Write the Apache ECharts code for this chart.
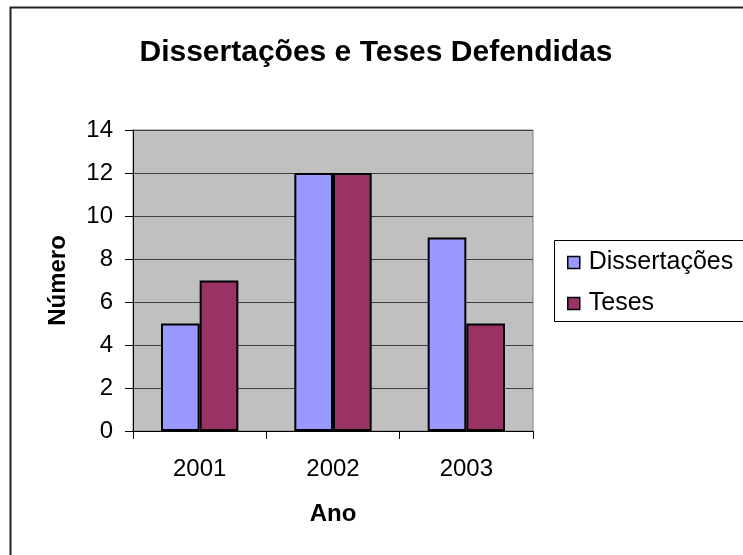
<!DOCTYPE html>
<html><head><meta charset="utf-8">
<script src="https://cdn.jsdelivr.net/npm/echarts@6/dist/echarts.min.js"></script>
<style>html,body{margin:0;padding:0;background:#fff}#c{width:743px;height:555px}</style>
</head><body><div id="c"></div>
<script>
var categories = ['2001', '2002', '2003'];
var dissertacoes = [5, 12, 9];
var teses = [7, 12, 5];
var yTicks = [0, 2, 4, 6, 8, 10, 12, 14];

var chart = echarts.init(document.getElementById('c'));
var F = 'Arial, "Liberation Sans", sans-serif';
chart.setOption({
  animation: false,
  backgroundColor: '#fff',
  title: {
    text: 'Dissertações e Teses Defendidas',
    left: 371, top: 33, textAlign: 'center',
    textStyle: { fontFamily: F, fontSize: 30, fontWeight: 'bold', color: '#000' }
  },
  graphic: [
    { type: 'rect', z: 0, shape: { x: 10.5, y: 7.5, width: 800, height: 700 },
      style: { fill: 'none', stroke: '#222', lineWidth: 2 } },
    { type: 'rect', z: 0, shape: { x: 554.5, y: 240.5, width: 300, height: 81 },
      style: { fill: '#fff', stroke: '#000', lineWidth: 1 } }
  ],
  legend: {
    orient: 'vertical', left: 562, top: 245, itemGap: 16,
    itemWidth: 12, itemHeight: 12, icon: 'rect',
    itemStyle: { borderColor: '#000', borderWidth: 1.5 },
    textStyle: { fontFamily: F, fontSize: 25, color: '#000', padding: [0, 0, 0, 4] },
    data: ['Dissertações', 'Teses']
  },
  grid: { left: 133, right: 210, top: 130, bottom: 124, show: true,
    backgroundColor: '#c0c0c0', borderColor: '#808080', borderWidth: 1 },
  xAxis: {
    type: 'category', data: categories,
    name: 'Ano', nameLocation: 'middle', nameGap: 71,
    nameTextStyle: { fontFamily: F, fontSize: 24, fontWeight: 'bold', color: '#000' },
    axisLine: { lineStyle: { color: '#000', width: 1 } },
    axisTick: { show: true, length: 8, lineStyle: { color: '#000' } },
    axisLabel: { fontFamily: F, fontSize: 24, color: '#000', margin: 26 }
  },
  yAxis: {
    type: 'value', min: 0, max: 14, interval: 2,
    name: 'Número', nameLocation: 'middle', nameGap: 63,
    nameTextStyle: { fontFamily: F, fontSize: 24, fontWeight: 'bold', color: '#000' },
    axisLine: { show: true, lineStyle: { color: '#000', width: 1 } },
    axisTick: { show: true, length: 8, lineStyle: { color: '#000' } },
    axisLabel: { fontFamily: F, fontSize: 24, color: '#000', margin: 20,
      formatter: function (v) { return yTicks.indexOf(v) >= 0 ? String(v) : ''; } },
    splitLine: { show: true, lineStyle: { color: '#404040', width: 1 } }
  },
  series: [
    { name: 'Dissertações', type: 'bar', data: dissertacoes, barGap: '0%', barCategoryGap: '42%',
      itemStyle: { color: '#9999ff', borderColor: '#000', borderWidth: 2 } },
    { name: 'Teses', type: 'bar', data: teses, barGap: '0%', barCategoryGap: '42%',
      itemStyle: { color: '#993366', borderColor: '#000', borderWidth: 2 } }
  ]
});
</script></body></html>
